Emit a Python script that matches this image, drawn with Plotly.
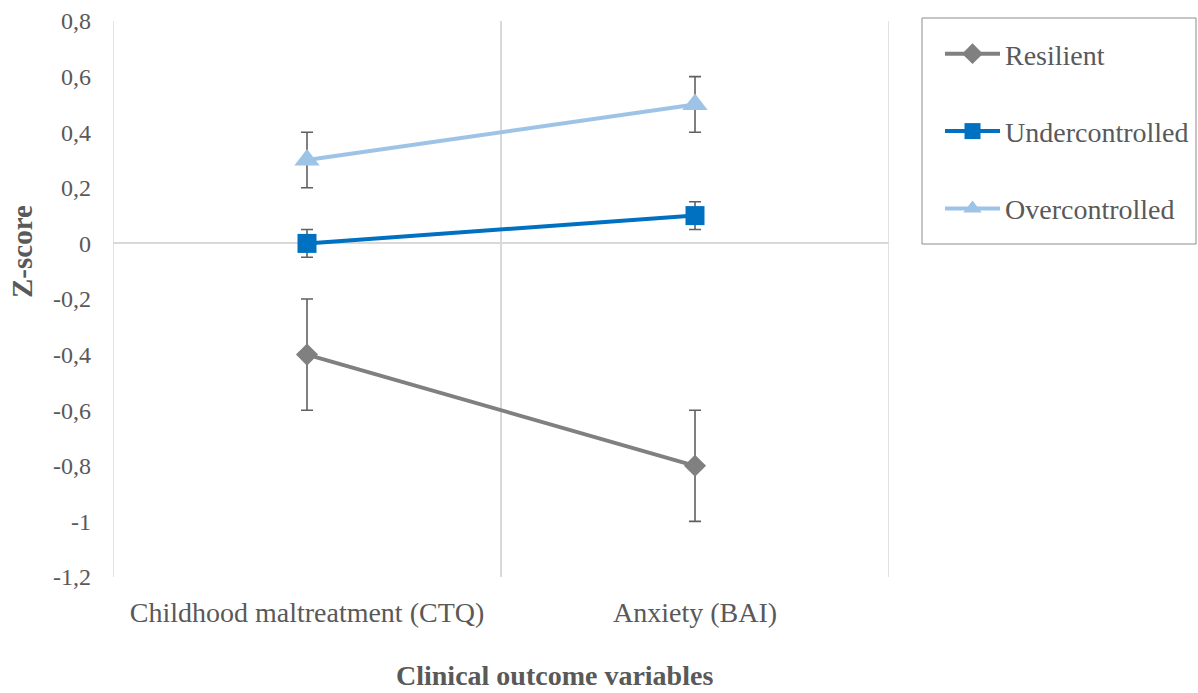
import plotly.graph_objects as go

categories = ["Childhood maltreatment (CTQ)", "Anxiety (BAI)"]
series_names = ["Resilient", "Undercontrolled", "Overcontrolled"]
resilient = [-0.4, -0.8]
resilient_err = [0.2, 0.2]
undercontrolled = [0.0, 0.1]
undercontrolled_err = [0.05, 0.05]
overcontrolled = [0.3, 0.5]
overcontrolled_err = [0.1, 0.1]
y_ticks = [-1.2, -1.0, -0.8, -0.6, -0.4, -0.2, 0.0, 0.2, 0.4, 0.6, 0.8]
y_ticktext = ["-1,2", "-1", "-0,8", "-0,6", "-0,4", "-0,2", "0", "0,2", "0,4", "0,6", "0,8"]

colors = ["#808080", "#0070C0", "#9DC3E6"]
symbols = ["diamond", "square", "triangle-up"]
sizes = [17, 19, 22]
values = [resilient, undercontrolled, overcontrolled]
errors = [resilient_err, undercontrolled_err, overcontrolled_err]

FONT = "Liberation Serif, Times New Roman, serif"
TXT = "#595959"
GRID = "#d9d9d9"

W, H = 1198, 693
L, R, T, B = 113, 309, 21, 116
PW, PH = W - L - R, H - T - B


def px_x(x):
    return (x - L) / PW


def px_y(y):
    return (H - B - y) / PH


fig = go.Figure()
for i, name in enumerate(series_names):
    fig.add_trace(go.Scatter(
        x=categories, y=values[i], name=name, mode="lines+markers",
        legendgroup=name,
        line=dict(color=colors[i], width=4),
        marker=dict(symbol=symbols[i], size=sizes[i], color=colors[i]),
        error_y=dict(type="data", array=errors[i], visible=True,
                     color="#606060", thickness=1.6, width=6),
    ))

shapes = [
    dict(type="line", xref="x", yref="paper", x0=-0.5, x1=-0.5, y0=0, y1=1,
         line=dict(color=GRID, width=1.5), layer="below"),
    dict(type="line", xref="x", yref="paper", x0=1.5, x1=1.5, y0=0, y1=1,
         line=dict(color=GRID, width=1.5), layer="below"),
    dict(type="rect", xref="paper", yref="paper",
         x0=px_x(922), x1=px_x(1196), y0=px_y(244), y1=px_y(18),
         line=dict(color="#8c8c8c", width=1), fillcolor="rgba(0,0,0,0)"),
]

fig.update_layout(
    width=W, height=H,
    margin=dict(l=L, r=R, t=T, b=B, autoexpand=False),
    paper_bgcolor="white", plot_bgcolor="white",
    font=dict(family=FONT, color=TXT, size=22),
    showlegend=True,
    legend=dict(
        x=px_x(940), y=px_y(29), xanchor="left", yanchor="top",
        borderwidth=0, bgcolor="rgba(0,0,0,0)",
        font=dict(family=FONT, size=28, color=TXT),
        tracegroupgap=38, traceorder="grouped",
        itemwidth=55,
    ),
    xaxis=dict(
        type="category", range=[-0.5, 1.5], tickson="boundaries",
        showgrid=True, gridcolor=GRID, gridwidth=1.5,
        ticks="", showline=False, zeroline=False, automargin=False,
        tickfont=dict(family=FONT, size=28, color=TXT),
        ticklabelstandoff=16,
    ),
    yaxis=dict(
        range=[-1.2, 0.8], tickvals=y_ticks, ticktext=y_ticktext,
        showgrid=False, zeroline=True, zerolinecolor=GRID, zerolinewidth=1.5,
        showline=False, ticks="", automargin=False,
        tickfont=dict(family=FONT, size=24, color=TXT),
        ticklabelstandoff=21,
    ),
    shapes=shapes,
    annotations=[
        dict(text="<b>Clinical outcome variables</b>", xref="paper", yref="paper",
             x=px_x(554), y=px_y(675), xanchor="center", yanchor="middle",
             showarrow=False, font=dict(family=FONT, size=28, color=TXT)),
        dict(text="<b>Z-score</b>", xref="paper", yref="paper",
             x=px_x(22), y=px_y(252), xanchor="center", yanchor="middle",
             textangle=-90, showarrow=False, font=dict(family=FONT, size=29, color=TXT)),
    ],
)

fig.write_html("out.html", config={"displayModeBar": False},
               post_script="document.body.style.margin='0';")
